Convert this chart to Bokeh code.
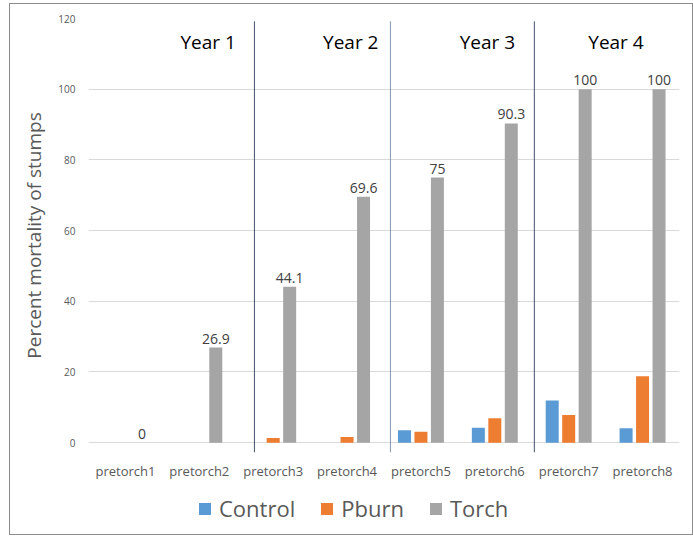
from bokeh.plotting import figure
from bokeh.layouts import column
from bokeh.models import (FactorRange, Range1d, Legend, LegendItem, FixedTicker,
                          ColumnDataSource)
from bokeh.transform import dodge
from bokeh.core.properties import value
from bokeh.embed import file_html
from bokeh.resources import INLINE

# ---- data ----
categories = ["pretorch1", "pretorch2", "pretorch3", "pretorch4",
              "pretorch5", "pretorch6", "pretorch7", "pretorch8"]
control = [0, 0, 0, 0, 3.5, 4.2, 11.9, 4.1]
pburn = [0, 0, 1.3, 1.6, 3.1, 6.9, 7.8, 18.8]
torch = [0, 26.9, 44.1, 69.6, 75, 90.3, 100, 100]
series_names = ["Control", "Pburn", "Torch"]
series_colors = ["#5B9BD5", "#ED7D31", "#A5A5A5"]
year_labels = ["Year 1", "Year 2", "Year 3", "Year 4"]
y_ticks = [0, 20, 40, 60, 80, 100, 120]

FONT = "Open Sans"
GREY_TXT = "#595959"

src = ColumnDataSource(dict(cat=categories, control=control, pburn=pburn, torch=torch,
                            lab=["{:g}".format(v) for v in torch]))

p = figure(x_range=FactorRange(*categories, range_padding=0),
           y_range=Range1d(-2.78, 120),
           width=682, height=478, output_backend="svg", toolbar_location=None,
           min_border_left=78, min_border_right=13, min_border_top=14, min_border_bottom=22)
p.outline_line_color = None
p.xgrid.grid_line_color = None
p.ygrid.grid_line_color = "#d9d9d9"
p.ygrid.ticker = FixedTicker(ticks=y_ticks)
p.yaxis.ticker = FixedTicker(ticks=y_ticks)
p.yaxis.axis_line_color = None
p.yaxis.major_tick_line_color = None
p.yaxis.minor_tick_line_color = None
p.yaxis.major_label_text_font = FONT
p.yaxis.major_label_text_font_size = "10px"
p.yaxis.major_label_text_color = GREY_TXT
p.yaxis.major_label_standoff = 7
p.yaxis.axis_label = "Percent mortality of stumps"
p.yaxis.axis_label_text_font = FONT
p.yaxis.axis_label_text_font_size = "19px"
p.yaxis.axis_label_text_font_style = "normal"
p.yaxis.axis_label_text_color = GREY_TXT
p.yaxis.axis_label_standoff = 8

p.xaxis.axis_line_color = None
p.xaxis.major_tick_line_color = None
p.xaxis.minor_tick_line_color = None
p.xaxis.major_label_text_font = FONT
p.xaxis.major_label_text_font_size = "13px"
p.xaxis.major_label_text_color = GREY_TXT
p.xaxis.major_label_standoff = 3

bw = 0.176
off = 0.223
r_c = p.vbar(x=dodge("cat", -off, range=p.x_range), top="control", bottom=0, width=bw,
             source=src, fill_color=series_colors[0], line_color=None)
r_p = p.vbar(x=dodge("cat", 0, range=p.x_range), top="pburn", bottom=0, width=bw,
             source=src, fill_color=series_colors[1], line_color=None)
r_t = p.vbar(x=dodge("cat", off, range=p.x_range), top="torch", bottom=0, width=bw,
             source=src, fill_color=series_colors[2], line_color=None)

p.text(x=dodge("cat", off, range=p.x_range), y="torch", text="lab", source=src,
       text_align="center", text_baseline="bottom", y_offset=-4,
       text_font=value(FONT), text_font_size="14px", text_color="#404040")

# separators between years
sep_x = [2.246, 4.087, 6.035]
sep_col = ["#44546A", "#8497B0", "#44546A"]
p.segment(x0=sep_x, x1=sep_x, y0=[-2.78] * 3, y1=[119.2] * 3,
          line_color=sep_col, line_width=1)

year_x = [1.62, 3.55, 5.40, 7.14]
p.text(x=year_x, y=[113.3] * 4, text=year_labels, text_align="center",
       text_baseline="middle", text_font=value(FONT), text_font_size="19px",
       text_color="#000000")

# legend strip (separate figure below the chart)
p2 = figure(width=682, height=52, output_backend="svg", toolbar_location=None,
            x_axis_type=None, y_axis_type=None, min_border=0,
            x_range=Range1d(0, 1), y_range=Range1d(0, 1))
p2.outline_line_color = None
p2.grid.grid_line_color = None
items = []
for name, col in zip(series_names, series_colors):
    # off-screen proxy glyph, only used for the legend swatch
    r = p2.quad(left=[-10], right=[-9], bottom=[-10], top=[-9],
                fill_color=col, line_color=None)
    items.append(LegendItem(label=name, renderers=[r]))
legend = Legend(items=items, orientation="horizontal", location=(109, 11),
                label_text_font=FONT, label_text_font_size="22px",
                label_text_color=GREY_TXT, glyph_width=15, glyph_height=15,
                label_standoff=7, spacing=24, border_line_color=None,
                background_fill_alpha=0, padding=0, margin=0)
p2.add_layout(legend, "center")

layout = column(p, p2, spacing=0,
                styles={"border": "1px solid #8c8c8c", "margin-left": "9px",
                        "margin-top": "3px"})

open("out.html", "w").write(file_html(layout, INLINE))
